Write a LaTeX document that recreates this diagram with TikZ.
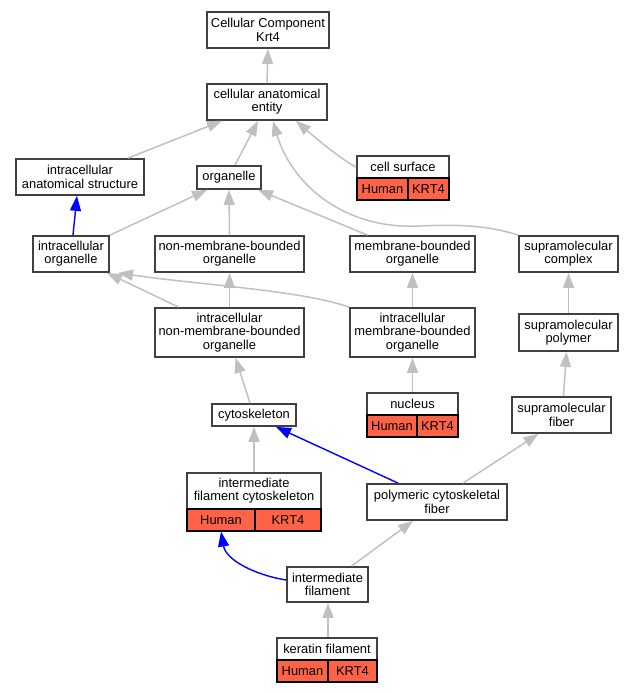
\documentclass[tikz,border=0pt]{standalone}
\usepackage{fontspec}
\setmainfont{Liberation Sans}
\usetikzlibrary{arrows.meta,calc}
\definecolor{tomatored}{HTML}{FF6347}
\definecolor{edgegray}{HTML}{C0C0C0}
\definecolor{boxline}{HTML}{404040}
\tikzset{
  box/.style={draw=boxline, line width=1.8pt, fill=white, inner sep=0pt, align=center,
    font=\fontsize{12.9}{13.3}\selectfont},
  cell/.style={draw=black, line width=1.2pt, fill=tomatored, inner sep=0pt, align=center,
    minimum height=22pt, font=\fontsize{12.9}{13.3}\selectfont},
  isa/.style={draw=edgegray, line width=1.5pt, -{Triangle[length=15pt,width=11pt]}},
  rel/.style={draw=blue, line width=1.4pt, -{Triangle[length=15pt,width=11pt]}},
}
\begin{document}
\begin{tikzpicture}[x=1pt,y=-1pt]
\useasboundingbox (0,0) rectangle (635,693);
% nodes
\node[box, minimum width=122pt, minimum height=36pt] (cc) at (268,30) {Cellular Component\\Krt4};
\node[box, minimum width=120pt, minimum height=36pt] (cae) at (267,102) {cellular anatomical\\entity};
\node[box, minimum width=128pt, minimum height=36pt] (ias) at (80,177) {intracellular\\anatomical structure};
\node[box, minimum width=64pt, minimum height=23pt] (org) at (229,177.5) {organelle};
\node[box, minimum width=92pt, minimum height=22pt] (csh) at (403,167) {cell surface};
\node[cell, minimum width=51pt] (csH) at (382.5,189) {Human};
\node[cell, minimum width=41pt] (csK) at (428.5,189) {KRT4};
\node[box, minimum width=76pt, minimum height=36pt] (io) at (71,254) {intracellular\\organelle};
\node[box, minimum width=149pt, minimum height=36pt] (nmbo) at (229.5,254) {non-membrane-bounded\\organelle};
\node[box, minimum width=125pt, minimum height=36pt] (mbo) at (412.5,254) {membrane-bounded\\organelle};
\node[box, minimum width=99pt, minimum height=36pt] (sc) at (568.5,254) {supramolecular\\complex};
\node[box, minimum width=149pt, minimum height=49pt] (inmbo) at (229.5,332.5) {intracellular\\non-membrane-bounded\\organelle};
\node[box, minimum width=125pt, minimum height=49pt] (imbo) at (412.5,332.5) {intracellular\\membrane-bounded\\organelle};
\node[box, minimum width=99pt, minimum height=37pt] (sp) at (568.5,332.5) {supramolecular\\polymer};
\node[box, minimum width=84pt, minimum height=22pt] (cyto) at (254,415) {cytoskeleton};
\node[box, minimum width=91pt, minimum height=22pt] (nuch) at (412.5,404) {nucleus};
\node[cell, minimum width=50pt] (nucH) at (392,426) {Human};
\node[cell, minimum width=41pt] (nucK) at (437.5,426) {KRT4};
\node[box, minimum width=99pt, minimum height=36pt] (sf) at (561.5,415) {supramolecular\\fiber};
\node[box, minimum width=134pt, minimum height=36pt] (ifch) at (254,491) {intermediate\\filament cytoskeleton};
\node[cell, minimum width=68pt] (ifcH) at (221,520) {Human};
\node[cell, minimum width=66pt] (ifcK) at (288,520) {KRT4};
\node[box, minimum width=140pt, minimum height=36pt] (pcf) at (437,502) {polymeric cytoskeletal\\fiber};
\node[box, minimum width=81pt, minimum height=35pt] (if) at (327.5,584.5) {intermediate\\filament};
\node[box, minimum width=100pt, minimum height=22pt] (kfh) at (327,649) {keratin filament};
\node[cell, minimum width=51pt] (kfH) at (302.5,671) {Human};
\node[cell, minimum width=49pt] (kfK) at (352.5,671) {KRT4};
% edges
\draw[isa] (cae.north) -- (cc.south);
\draw[isa] ([xshift=48pt]ias.north) -- ([xshift=-45pt]cae.south);
\draw[isa] ([xshift=6pt]org.north) -- ([xshift=-9pt]cae.south);
\draw[isa] (csh.west) .. controls (342,160) and (318,140) .. ([xshift=29pt]cae.south);
\draw[isa] (sc.north west) .. controls (490,226) and (460,224) .. (420,226)
  .. controls (340,230) and (290,180) .. ([xshift=6pt]cae.south);
\draw[rel] ([xshift=2pt]io.north) -- ([xshift=-3pt]ias.south);
\draw[isa] (io.north east) -- ([xshift=-22pt]org.south);
\draw[isa] (nmbo.north) -- (org.south);
\draw[isa] ([xshift=-45pt]mbo.north) -- ([xshift=29pt]org.south);
\draw[isa] ([xshift=-51pt]inmbo.north) -- ([xshift=36pt]io.south);
\draw[isa] (imbo.north west) .. controls (300,290) and (200,285) .. ([xshift=47pt]io.south);
\draw[isa] (inmbo.north) -- (nmbo.south);
\draw[isa] (imbo.north) -- (mbo.south);
\draw[isa] (sp.north) -- (sc.south);
\draw[isa] ([xshift=-4pt]cyto.north) -- ([xshift=6pt]inmbo.south);
\draw[isa] (nuch.north) -- (imbo.south);
\draw[isa] ([xshift=2pt]sf.north) -- ([xshift=-2pt]sp.south);
\draw[isa] (ifch.north) -- (cyto.south);
\draw[rel] ([xshift=-39pt]pcf.north) -- ([xshift=22pt]cyto.south);
\draw[isa] ([xshift=26pt]pcf.north) -- ([xshift=-23pt]sf.south);
\draw[rel] ([yshift=4.5pt]if.west) .. controls (255,575) and (226,560) .. (ifcH.south);
\draw[isa] ([xshift=24pt]if.north) -- ([xshift=-24pt]pcf.south);
\draw[isa] ([xshift=1pt]kfh.north) -- ([xshift=0.5pt]if.south);
\end{tikzpicture}
\end{document}
